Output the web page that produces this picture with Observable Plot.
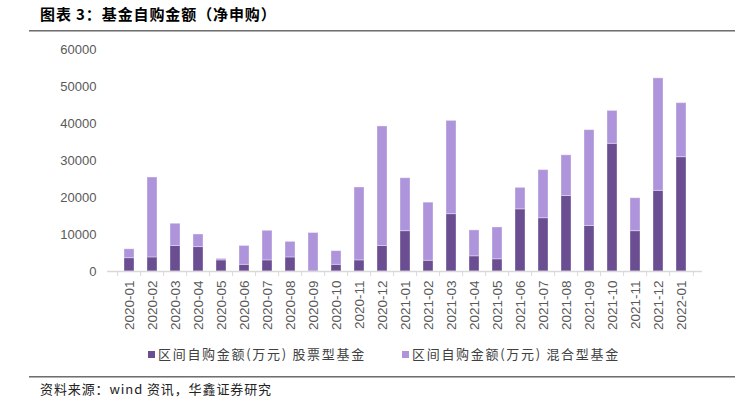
<!DOCTYPE html>
<html>
<head>
<meta charset="utf-8">
<script src="https://cdn.jsdelivr.net/npm/d3@7"></script>
<script src="https://cdn.jsdelivr.net/npm/@observablehq/plot@0.6"></script>
<style>
  html, body { margin: 0; padding: 0; background: #fff; }
  #wrap { position: relative; width: 735px; height: 398px; overflow: hidden; font-family: "Noto Sans CJK SC", "Liberation Sans", sans-serif; }
  #title { position: absolute; left: 40px; top: 3px; font-size: 15px; font-weight: bold; letter-spacing: 0.9px; color: #000; white-space: nowrap; }
  .rule { position: absolute; left: 29px; width: 706px; height: 0; border-top: 1px solid #6f6f6f; border-bottom: 1px solid #b0b0b0; }
  #chart { position: absolute; left: 0; top: 35px; }
  #legend { position: absolute; top: 345px; left: 0; width: 735px; height: 18px; font-size: 13px; color: #404040; letter-spacing: 1.7px; }
  .item { position: absolute; top: 0; white-space: nowrap; line-height: 18px; }
  .sw { display: inline-block; width: 7px; height: 7px; margin-right: 3px; vertical-align: 1px; }
  #source { position: absolute; left: 40px; top: 379px; font-size: 13px; color: #222; white-space: nowrap; letter-spacing: 0.9px; }
</style>
</head>
<body>
<div id="wrap">
  <div id="title"></div>
  <div class="rule" style="top:30px"></div>
  <div id="chart"></div>
  <div id="legend"></div>
  <div class="rule" style="top:376px"></div>
  <div id="source"></div>
</div>
<script>
const titleText = "图表 3：基金自购金额（净申购）";
const sourceText = "资料来源：wind 资讯，华鑫证券研究";
const months = ["2020-01","2020-02","2020-03","2020-04","2020-05","2020-06","2020-07","2020-08","2020-09","2020-10","2020-11","2020-12",
                "2021-01","2021-02","2021-03","2021-04","2021-05","2021-06","2021-07","2021-08","2021-09","2021-10","2021-11","2021-12","2022-01"];
const stockValues = [3600,3800,6900,6600,3000,1800,3000,3800,0,1800,3000,6900,
                     10900,2900,15500,4100,3300,16800,14400,20400,12300,34500,10900,21800,30900];
const mixedValues = [2400,21600,6000,3400,400,5100,8000,4200,10400,3700,19700,32300,
                     14300,15700,25200,7000,8600,5800,13000,11000,25900,8900,8900,30400,14600];
const seriesNames = ["区间自购金额(万元) 股票型基金", "区间自购金额(万元) 混合型基金"];
const seriesColors = ["#6B4E92", "#AE94DA"];
const yTicks = [0,10000,20000,30000,40000,50000,60000];

const table = [];
months.forEach((m, i) => table.push({month: m, series: seriesNames[0], value: stockValues[i]}));
months.forEach((m, i) => table.push({month: m, series: seriesNames[1], value: mixedValues[i]}));

document.getElementById("title").textContent = titleText;
document.getElementById("source").textContent = sourceText;

const legend = document.getElementById("legend");
const legendLeft = [148, 402];
seriesNames.forEach((name, i) => {
  const it = document.createElement("div");
  it.className = "item";
  it.style.left = legendLeft[i] + "px";
  const sw = document.createElement("span");
  sw.className = "sw";
  sw.style.background = seriesColors[i];
  it.appendChild(sw);
  it.appendChild(document.createTextNode(name));
  legend.appendChild(it);
});

const step = (735 - 107 - 33) / months.length;

const chart = Plot.plot({
  width: 735,
  height: 300,
  marginTop: 14,
  marginBottom: 64,
  marginLeft: 107,
  marginRight: 33,
  style: { fontFamily: "'Liberation Sans', Arial, sans-serif", fontSize: "13px", color: "#595959", background: "transparent" },
  x: { domain: months, paddingInner: 0.58, paddingOuter: 0.29, label: null },
  y: { domain: [0, 60000], label: null },
  color: { domain: seriesNames, range: seriesColors },
  marks: [
    Plot.axisY({ ticks: yTicks, tickSize: 0, tickPadding: 11, label: null, tickFormat: d => String(d) }),
    Plot.barY(table, { x: "month", y: "value", fill: "series", stroke: "white", strokeOpacity: 0.35, strokeWidth: 1 }),
    Plot.ruleY([0], { stroke: "#d9d9d9", strokeWidth: 1.5 }),
    Plot.axisX({ tickSize: 0, tickRotate: -90, tickPadding: 9, label: null, fontSize: 13.5 }),
    Plot.axisX({ text: null, tickSize: 5, dx: -step / 2, stroke: "#d9d9d9", label: null }),
    Plot.axisX({ ticks: [months[months.length - 1]], text: null, tickSize: 5, dx: step / 2, stroke: "#d9d9d9", label: null })
  ]
});
document.getElementById("chart").appendChild(chart);
</script>
</body>
</html>
